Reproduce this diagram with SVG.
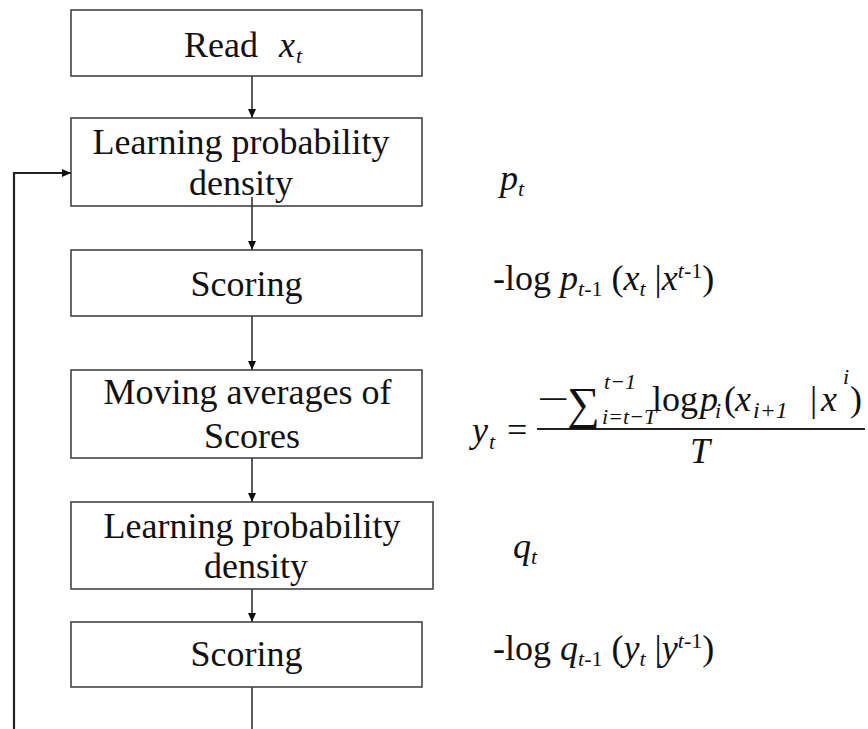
<svg xmlns="http://www.w3.org/2000/svg" width="868" height="729" viewBox="0 0 868 729">
<style>
.box{fill:#fff;stroke:#444;stroke-width:1.6}
text{font-family:"Times New Roman","Liberation Serif",serif;fill:#111}
.t{font-size:36px;text-anchor:middle}
.m{font-size:36px}
.i{font-style:italic}
.s{font-size:22px}
.c{stroke:#333;stroke-width:1.6;fill:none}
.fb{stroke:#222;stroke-width:2.2;fill:none}
</style>
<defs>
<marker id="ah" markerWidth="10" markerHeight="10" refX="9" refY="5" orient="auto" markerUnits="userSpaceOnUse">
<path d="M0,1 L9,5 L0,9 Z" fill="#111"/>
</marker>
</defs>
<rect width="868" height="729" fill="#fff"/>
<g id="connectors">
<line class="c" x1="252" y1="76" x2="252" y2="118" marker-end="url(#ah)"/>
<line class="c" x1="252" y1="316" x2="252" y2="370" marker-end="url(#ah)"/>
<line class="c" x1="252" y1="458" x2="252" y2="502" marker-end="url(#ah)"/>
<line class="c" x1="252" y1="589" x2="252" y2="622" marker-end="url(#ah)"/>
<line class="c" x1="252" y1="687" x2="252" y2="729"/>
<polyline class="fb" points="14,729 14,173 71,173" marker-end="url(#ah)"/>
</g>
<g id="read">
<rect class="box" x="71" y="10" width="351" height="66"/>
<text class="m" x="184" y="57">Read</text>
<text class="m i" x="279" y="57">x</text>
<text class="i s" x="296" y="63">t</text>
</g>
<g id="learn1">
<rect class="box" x="71" y="118" width="351" height="88"/>
<text class="t" x="241" y="154">Learning probability</text>
<text class="t" x="241" y="195">density</text>
</g>
<g id="connector-overlay">
<line class="c" x1="252" y1="197" x2="252" y2="250" marker-end="url(#ah)"/>
</g>
<g id="score1">
<rect class="box" x="71" y="250" width="351" height="66"/>
<text class="t" x="246.5" y="296">Scoring</text>
</g>
<g id="moving">
<rect class="box" x="71" y="370" width="351" height="88"/>
<text class="t" x="247.5" y="404">Moving averages of</text>
<text class="t" x="252" y="448">Scores</text>
</g>
<g id="learn2">
<rect class="box" x="71" y="502" width="362" height="87"/>
<text class="t" x="252" y="538">Learning probability</text>
<text class="t" x="256" y="578">density</text>
</g>
<g id="score2">
<rect class="box" x="71" y="622" width="351" height="65"/>
<text class="t" x="246.5" y="666">Scoring</text>
</g>
<g id="labels">
<text class="m" x="500" y="190"><tspan class="i">p</tspan><tspan class="i s" dy="6">t</tspan></text>
<text class="m" x="493" y="290">-log <tspan class="i">p</tspan><tspan class="i s" dy="6">t</tspan><tspan class="s">-1</tspan><tspan dy="-6"> (</tspan><tspan class="i">x</tspan><tspan class="i s" dy="6">t</tspan><tspan dy="-6"> |</tspan><tspan class="i">x</tspan><tspan class="i s" dy="-12">t</tspan><tspan class="s">-1</tspan><tspan dy="12">)</tspan></text>
<text class="m" x="513" y="558"><tspan class="i">q</tspan><tspan class="i s" dy="6">t</tspan></text>
<text class="m" x="493" y="660">-log <tspan class="i">q</tspan><tspan class="i s" dy="6">t</tspan><tspan class="s">-1</tspan><tspan dy="-6"> (</tspan><tspan class="i">y</tspan><tspan class="i s" dy="6">t</tspan><tspan dy="-6"> |</tspan><tspan class="i">y</tspan><tspan class="i s" dy="-12">t</tspan><tspan class="s">-1</tspan><tspan dy="12">)</tspan></text>
</g>
<g id="formula">
<text class="m i" x="472" y="442">y</text>
<text class="i s" x="489" y="449">t</text>
<text class="m" x="507" y="442">=</text>
<line x1="537" y1="429" x2="865" y2="429" stroke="#222" stroke-width="2"/>
<text class="m" x="537" y="411" textLength="32" lengthAdjust="spacingAndGlyphs">−</text>
<text x="567" y="419" font-size="46">∑</text>
<text class="i s" x="604" y="389">t−1</text>
<text class="i s" x="602" y="424">i=t−T</text>
<text class="m" x="652" y="411">log</text>
<text class="m i" x="700" y="411">p</text>
<text class="i s" x="715" y="418">i</text>
<text class="m" x="724" y="411">(</text>
<text class="m i" x="735" y="411">x</text>
<text class="i" x="753" y="418" font-size="24">i+1</text>
<text class="m" x="810" y="411">|</text>
<text class="m i" x="821" y="411">x</text>
<text class="i s" x="843" y="384">i</text>
<text class="m" x="850" y="411">)</text>
<text class="m i" x="690" y="463">T</text>
</g>
</svg>
